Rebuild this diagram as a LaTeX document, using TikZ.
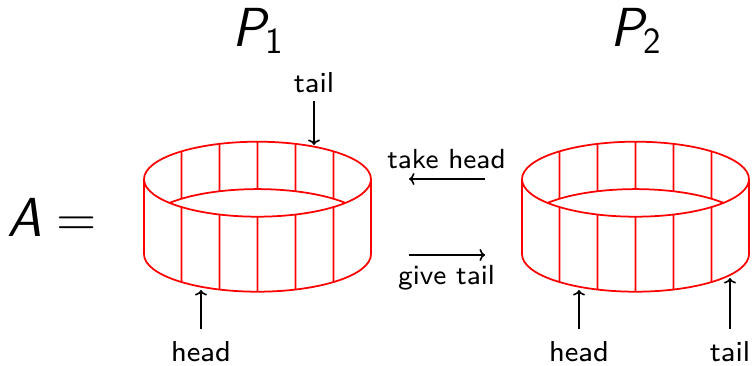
\documentclass[tikz,border=0pt]{standalone}
\usepackage{fontspec}
\usetikzlibrary{arrows.meta}
\renewcommand{\familydefault}{\sfdefault}
\tikzset{
  rim/.style={draw=red,line width=1.75pt},
  arr/.style={draw=black,line width=1.6pt,-{To[length=5.5pt,width=12pt]}},
  lab/.style={font=\fontsize{8}{10}\selectfont\sffamily,scale=3.6,inner sep=0pt,anchor=base,text=black},
  midlab/.style={font=\fontsize{8}{10}\selectfont\sffamily,scale=3.45,inner sep=0pt,anchor=base,text=black},
  big/.style={font=\fontsize{55}{60}\selectfont\sffamily\itshape,inner sep=0pt,anchor=base west,text=black},
}
\newcommand{\ringdraw}[1]{%
  \begin{scope}[shift={(#1,185.8)}]
    \draw[rim] (0,0) ellipse [x radius=113.5,y radius=37.5];
    \draw[rim] (-113.5,0) -- (-113.5,-75) arc [start angle=180,end angle=360,x radius=113.5,y radius=37.5] -- (113.5,0);
    \draw[rim] (-88,-23.7) arc [start angle=140.8,end angle=39.2,x radius=113.5,y radius=37.5];
    \draw[rim] (-76,27.85) -- (-75.99,-19.15);
    \draw[rim] (-38,35.33) -- (-37.99,-11.67);
    \draw[rim] (0,37.5) -- (0.01,-9.5);
    \draw[rim] (38,35.33) -- (38.01,-11.67);
    \draw[rim] (76,27.85) -- (76.01,-19.15);
    \draw[rim] (-76,-27.85) -- (-75.99,-102.85);
    \draw[rim] (-38,-35.33) -- (-37.99,-110.33);
    \draw[rim] (0,-37.5) -- (0.01,-112.5);
    \draw[rim] (38,-35.33) -- (38.01,-110.33);
    \draw[rim] (76,-27.85) -- (76.01,-102.85);
  \end{scope}}
\begin{document}
\begin{tikzpicture}[x=1pt,y=1pt]
\useasboundingbox (0,0) rectangle (752,365);
\ringdraw{257.5}
\ringdraw{635.5}
\node[big] (pone) at (232,318.5) {P\raisebox{-7.5pt}{\fontsize{37}{40}\selectfont\upshape 1}};
\node[big] (ptwo) at (610,318.5) {P\raisebox{-7.5pt}{\fontsize{37}{40}\selectfont\upshape 2}};
\node[big] (aeq) at (7,129) {A\hspace{15pt}\upshape =};
\node[lab] (tailA) at (314,272.3) {tail};
\node[lab] (headA) at (201,3.3) {head};
\node[lab] (headB) at (579,3.3) {head};
\node[lab] (tailB) at (730,3.3) {tail};
\node[midlab] (take) at (446.5,196.3) {take head};
\node[midlab] (give) at (446.5,80.7) {give tail};
\coordinate (tailAend) at (314,220);
\coordinate (headAend) at (201,75);
\coordinate (headBend) at (579,75);
\coordinate (tailBend) at (730,87);
\coordinate (takeS) at (485,186);
\coordinate (takeE) at (409,186);
\coordinate (giveS) at (409,110);
\coordinate (giveE) at (485,110);
\draw[arr,shorten <=7pt] (tailA.south) -- (tailAend);
\draw[arr,shorten <=12pt] (headA.north) -- (headAend);
\draw[arr,shorten <=12pt] (headB.north) -- (headBend);
\draw[arr,shorten <=12pt] (tailB.north) -- (tailBend);
\draw[arr] (takeS) -- (takeE);
\draw[arr] (giveS) -- (giveE);
\end{tikzpicture}
\end{document}
